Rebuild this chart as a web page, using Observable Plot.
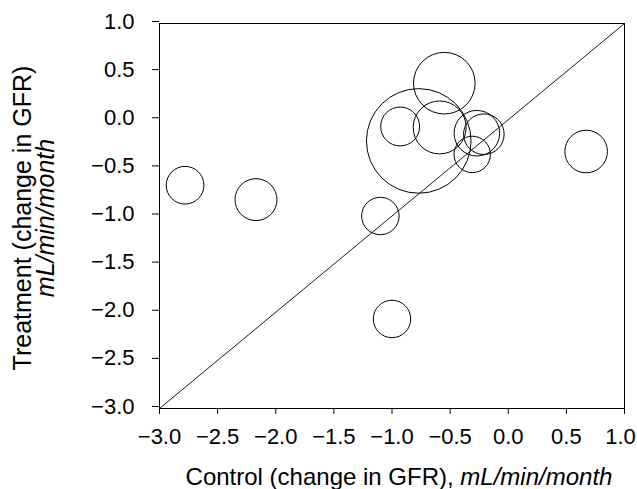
<!DOCTYPE html>
<html>
<head>
<meta charset="utf-8">
<script src="https://cdn.jsdelivr.net/npm/d3@7"></script>
<script src="https://cdn.jsdelivr.net/npm/@observablehq/plot@0.6"></script>
<style>
  html, body { margin: 0; padding: 0; background: #fff; }
  svg { display: block; }
</style>
</head>
<body>
<div id="chart"></div>
<script>
// Studies: control vs treatment change in GFR (mL/min/month), circle area ~ study size
const study = ["A", "B", "C", "D", "E", "F", "G", "H", "I", "J", "K", "L"];
const control = [-2.78, -2.17, -1.10, -1.00, 0.67, -0.55, -0.77, -0.93, -0.59, -0.27, -0.21, -0.31];
const treatment = [-0.68, -0.83, -1.00, -2.07, -0.33, 0.38, -0.22, -0.07, -0.08, -0.14, -0.15, -0.36];
const patients = [76, 94, 75, 75, 97, 203, 585, 81, 150, 111, 88, 71];

const xTicks = [-3, -2.5, -2, -1.5, -1, -0.5, 0, 0.5, 1];
const xTickLabels = ["−3.0", "−2.5", "−2.0", "−1.5", "−1.0", "−0.5", "0.0", "0.5", "1.0"];
const yTicks = [1, 0.5, 0, -0.5, -1, -1.5, -2, -2.5, -3];
const yTickLabels = ["1.0", "0.5", "0.0", "−0.5", "−1.0", "−1.5", "−2.0", "−2.5", "−3.0"];
const identityLine = [-3, 1];

const xTitle = ["Control (change in GFR), ", "mL/min/month"];
const yTitle = ["Treatment (change in GFR)", "mL/min/month"];

const data = study.map((s, i) => ({study: s, control: control[i], treatment: treatment[i], n: patients[i]}));

const font = "'Liberation Sans', Arial, Helvetica, sans-serif";
const xFmt = (d) => xTickLabels[xTicks.indexOf(d)];
const yFmt = (d) => yTickLabels[yTicks.indexOf(d)];

const chart = Plot.plot({
  width: 637,
  height: 489,
  marginLeft: 159,
  marginRight: 13,
  marginTop: 23,
  marginBottom: 81,
  style: {fontFamily: font, fontSize: "22px", color: "#000", background: "#fff"},
  x: {domain: [-3, 1]},
  y: {domain: [-3, 1]},
  r: {type: "sqrt", domain: [0, 585], range: [0, 52.3]},
  marks: [
    Plot.frame({stroke: "#000", strokeWidth: 1}),
    Plot.axisX({ticks: xTicks.slice(0, -1), tickFormat: xFmt, tickSize: 6, tickPadding: 14, label: null, fontSize: 22, stroke: "#000"}),
    Plot.axisX({ticks: xTicks.slice(-1), tickFormat: xFmt, tickSize: 6, tickPadding: 14, label: null, fontSize: 22, stroke: "#000", text: null}),
    Plot.axisX({ticks: xTicks.slice(-1), tickFormat: xFmt, tickSize: 0, tickPadding: 20, dx: -4, label: null, fontSize: 22, stroke: null}),
    Plot.axisY({ticks: yTicks, tickFormat: yFmt, tickSize: 7, tickPadding: 18, dy: -2, label: null, fontSize: 22, stroke: "#000"}),
    Plot.link([identityLine], {x1: (d) => d[0], y1: (d) => d[0], x2: (d) => d[1], y2: (d) => d[1], stroke: "#000", strokeWidth: 0.9}),
    Plot.dot(data, {x: "control", y: "treatment", r: "n", stroke: "#000", strokeWidth: 1, fill: "none"})
  ]
});

document.getElementById("chart").appendChild(chart);

// Axis titles (mixed roman / italic text)
const svg = d3.select(chart);
const xt = svg.append("text")
  .attr("x", 399).attr("y", 485)
  .attr("text-anchor", "middle")
  .attr("font-family", font).attr("font-size", 24).attr("fill", "#000");
xt.append("tspan").text(xTitle[0]);
xt.append("tspan").attr("font-style", "italic").text(xTitle[1]);

const yt = svg.append("g").attr("transform", "translate(0,218) rotate(-90)")
  .attr("font-family", font).attr("font-size", 25).attr("fill", "#000").attr("text-anchor", "middle");
yt.append("text").attr("x", 0).attr("y", 31).text(yTitle[0]);
yt.append("text").attr("x", 0).attr("y", 54).attr("font-style", "italic").text(yTitle[1]);
</script>
</body>
</html>
